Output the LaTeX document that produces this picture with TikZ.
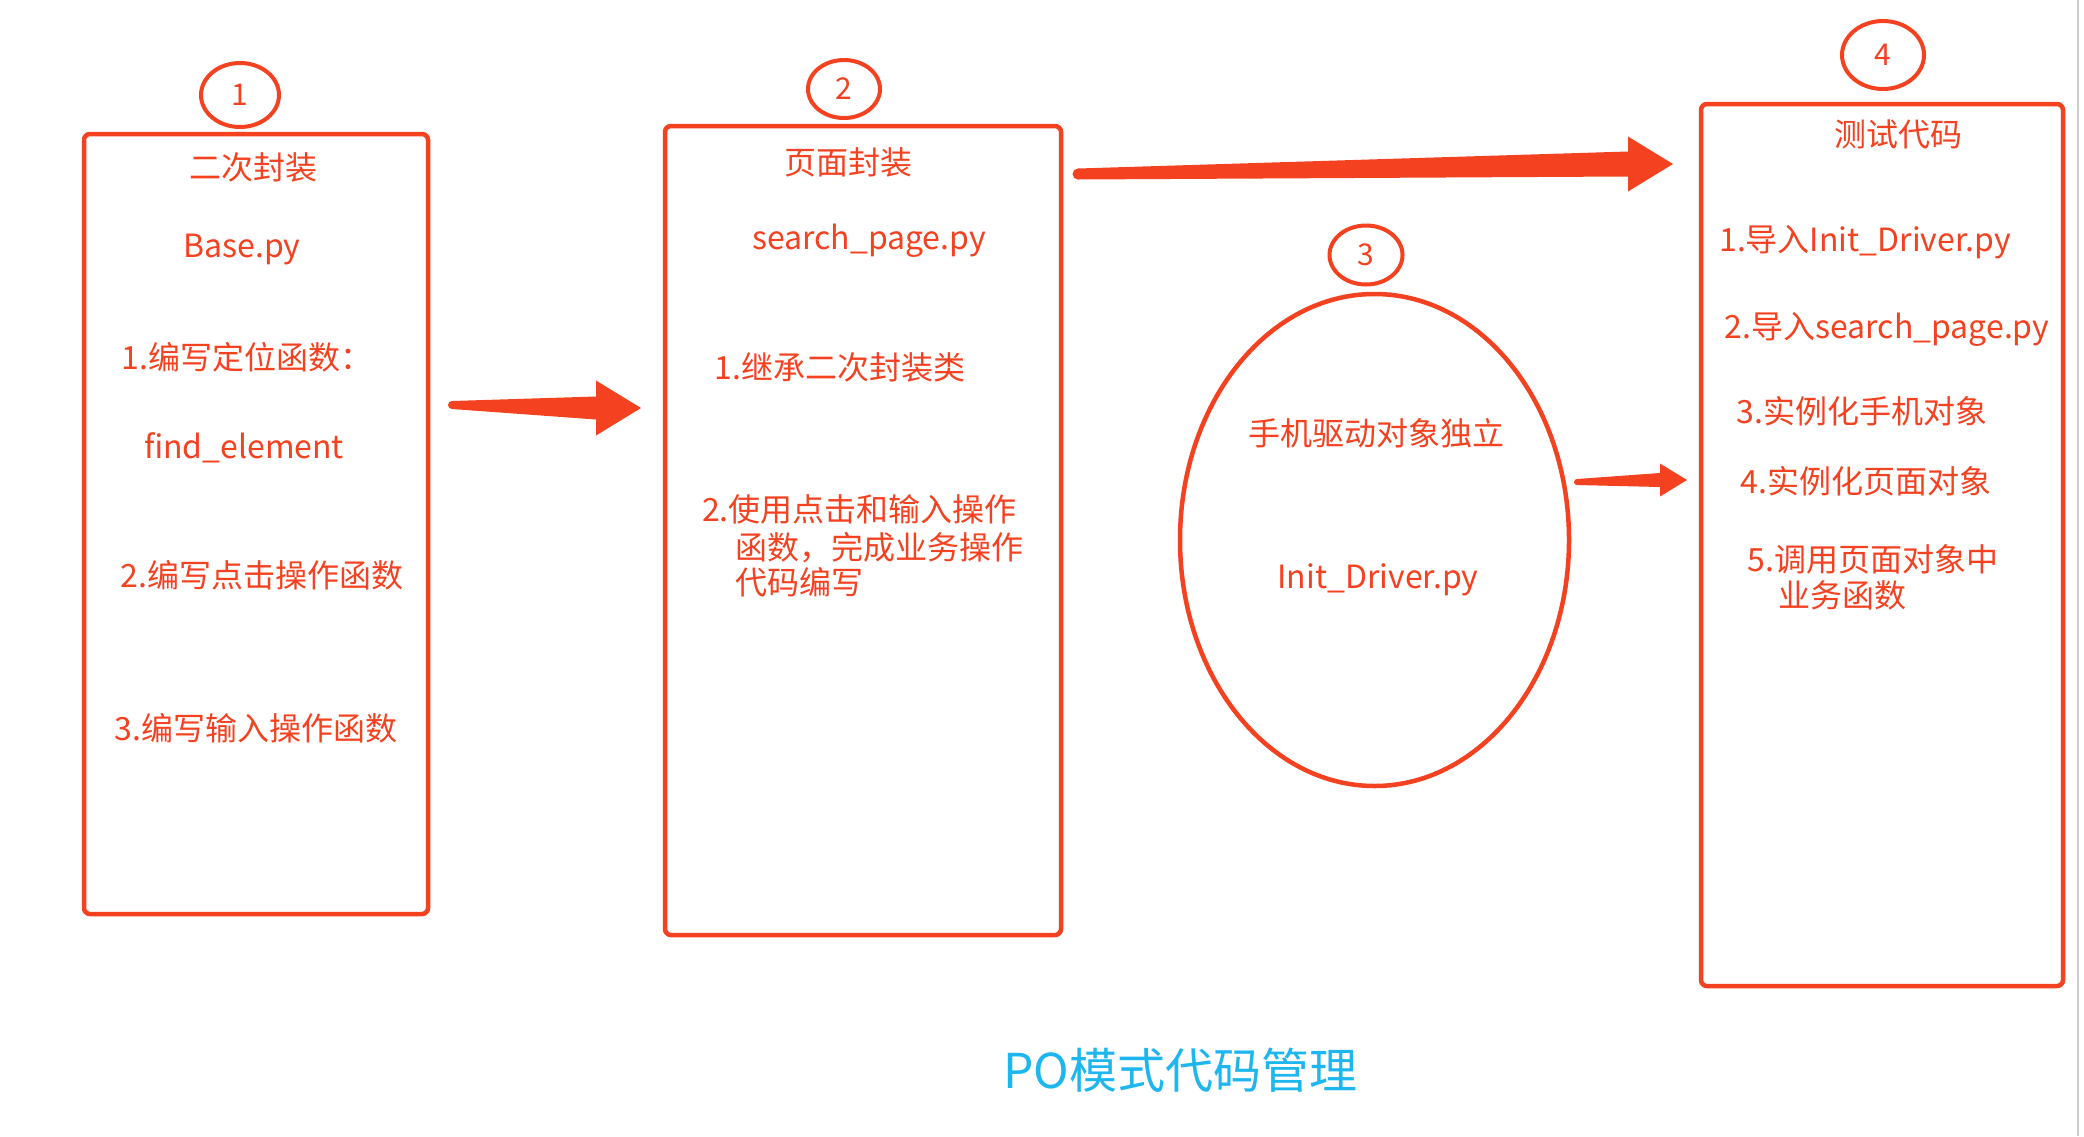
\documentclass[tikz,border=0pt]{standalone}
\usepackage{fontspec}
\setmainfont{Noto Sans CJK SC}
\usetikzlibrary{shapes.geometric,calc}
\definecolor{pred}{HTML}{F44120}
\definecolor{pblue}{HTML}{1DB6EE}
\tikzset{
  pbox/.style={draw=pred, line width=4.5pt, rounded corners=6pt, inner sep=0pt},
  numcirc/.style={draw=pred, ellipse, line width=4pt, inner sep=0pt, text=pred, font=\fontsize{30}{34}\selectfont},
  rtxt/.style={text=pred, inner sep=0pt, font=\fontsize{32}{38}\selectfont, text height=25pt, text depth=0pt},
  arrowred/.style={fill=pred},
}
\newcommand\taper[6]{%
  \fill[arrowred] ([yshift=#3pt]#1) arc[start angle=90,end angle=270,radius=#3pt]
    -- ([xshift=-#6pt,yshift=-#4pt]#2) -- ([xshift=-#6pt,yshift=-#5pt]#2) -- (#2)
    -- ([xshift=-#6pt,yshift=#5pt]#2) -- ([xshift=-#6pt,yshift=#4pt]#2) -- cycle;}
\begin{document}
\begin{tikzpicture}[x=1pt,y=-1pt]
\fill[white] (0,0) rectangle (2084,1136);
\useasboundingbox (0,0) rectangle (2084,1136);
\draw[line width=2pt, color=black!20] (2078,0) -- (2078,1136);

% boxes
\node[pbox, minimum width=344pt, minimum height=780pt] (b1) at (256,524) {};
\node[pbox, minimum width=396pt, minimum height=809pt] (b2) at (863,530.5) {};
\node[pbox, minimum width=362pt, minimum height=882pt] (b4) at (1882,545) {};
\node[draw=pred, ellipse, line width=4.5pt, inner sep=0pt, minimum width=389pt, minimum height=492pt] (e3) at (1374.5,540) {};

% number circles
\node[numcirc, minimum width=78pt, minimum height=64pt] (c1) at (240,95) {1};
\node[numcirc, minimum width=72pt, minimum height=58pt] (c2) at (844,89) {2};
\node[numcirc, minimum width=73pt, minimum height=59pt] (c3) at (1366,255) {3};
\node[numcirc, minimum width=82pt, minimum height=68pt] (c4) at (1883,55) {4};

% box 1 texts
\node[rtxt] (t11) at (253,167) {二次封装};
\node[rtxt] (t12) at (242,245) {Base.py};
\node[rtxt] (t13) at (247,357) {1.编写定位函数：};
\node[rtxt] (t14) at (244,446) {find\_element};
\node[rtxt] (t15) at (262,575) {2.编写点击操作函数};
\node[rtxt] (t16) at (256,728) {3.编写输入操作函数};

% box 2 texts
\node[rtxt] (t21) at (848,162) {页面封装};
\node[rtxt] (t22) at (869,237) {search\_page.py};
\node[rtxt] (t23) at (840,367) {1.继承二次封装类};
\node[rtxt, anchor=west] (t24) at (702,509) {2.使用点击和输入操作};
\node[rtxt, anchor=west] (t25) at (735,547) {函数，完成业务操作};
\node[rtxt, anchor=west] (t26) at (735,582) {代码编写};

% ellipse texts
\node[rtxt] (t31) at (1376,433) {手机驱动对象独立};
\node[rtxt] (t32) at (1378,576) {Init\_Driver.py};

% box 4 texts
\node[rtxt] (t41) at (1898,134) {测试代码};
\node[rtxt] (t42) at (1865,239) {1.导入Init\_Driver.py};
\node[rtxt] (t43) at (1887,326) {2.导入search\_page.py};
\node[rtxt] (t44) at (1862,411) {3.实例化手机对象};
\node[rtxt] (t45) at (1866,481) {4.实例化页面对象};
\node[rtxt] (t46) at (1873,559) {5.调用页面对象中};
\node[rtxt] (t47) at (1842,595) {业务函数};

% title
\node[text=pblue, inner sep=0pt, font=\fontsize{48}{56}\selectfont, text height=30pt, text depth=0pt] (title) at (1180,1073) {PO模式代码管理};

% arrows
\coordinate (a1s) at (452,405);
\coordinate (a1e) at (641,408);
\coordinate (a2s) at (1078,174);
\coordinate (a2e) at (1673,164);
\coordinate (a3s) at (1577,482);
\coordinate (a3e) at (1687,480);
\taper{a1s}{a1e}{4}{11.5}{27.5}{45}
\taper{a2s}{a2e}{5.5}{12.5}{27.5}{45}
\taper{a3s}{a3e}{3}{7}{16.5}{27}
\end{tikzpicture}
\end{document}
